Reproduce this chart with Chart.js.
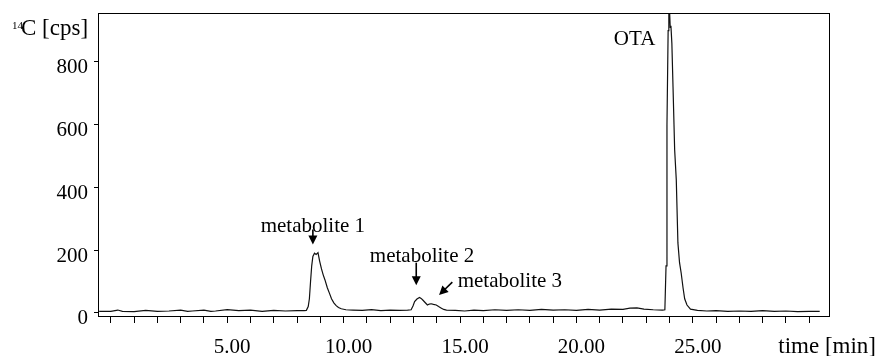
<!DOCTYPE html>
<html>
<head>
<meta charset="utf-8">
<script src="https://cdn.jsdelivr.net/npm/chart.js@4.4.0/dist/chart.umd.min.js"></script>
<style>
html,body{margin:0;padding:0;background:#fff}
#c{display:block}
</style>
</head>
<body>
<canvas id="c" width="878" height="356"></canvas>
<script>
// ===== data =====
const timeMin = [-0.5, 0, 0.3, 0.5, 1, 1.5, 2, 2.5, 3, 3.3, 3.5, 4, 4.3, 4.5, 5, 5.5, 6, 6.5, 7, 7.5, 8, 8.3,
  8.4, 8.48, 8.53, 8.58, 8.63, 8.68, 8.75, 8.82, 8.9, 8.97, 9.05, 9.12, 9.2, 9.3, 9.39, 9.48, 9.58, 9.68, 9.78, 9.9, 10.1,
  10.4, 10.8, 11.2, 11.6, 12.0, 12.4, 12.75,
  12.9, 12.98, 13.05, 13.15, 13.26, 13.33, 13.4, 13.5, 13.6, 13.68, 13.76, 13.86, 13.98, 14.08, 14.2, 14.3, 14.42,
  14.8, 15.2, 15.6, 16.0, 16.5, 17.0, 17.5, 18.0, 18.5, 19.0, 19.5, 20.0, 20.5, 21.0, 21.5, 22.0, 22.3, 22.6, 22.9, 23.3, 23.7,
  23.8, 23.85, 23.89, 23.94, 23.97, 24.0, 24.03, 24.06, 24.1, 24.15, 24.22, 24.29, 24.36, 24.43, 24.5, 24.58, 24.65, 24.75, 24.9,
  25.2, 25.6, 26.0, 26.5, 27.0, 27.5, 28.0, 28.5, 29.0, 29.5, 30.0, 30.45];
const cps = [5, 5, 9, 5, 4, 8, 5, 6, 9, 5, 6, 9, 5, 6, 10, 7, 9, 5, 8, 6, 7, 7,
  8, 20, 45, 100, 150, 180, 190, 186, 192, 165, 140, 122, 105, 80, 63, 45, 32, 23, 17, 13, 10,
  9, 8, 10, 7, 9, 8, 9,
  10, 22, 36, 44, 49, 46, 41, 33, 25, 28, 29, 27, 25, 20, 15, 11, 9,
  8, 6, 9, 7, 10, 8, 10, 8, 11, 9, 10, 8, 11, 9, 12, 11, 15, 16, 12, 10, 9,
  10, 150, 600, 900, 955, 965, 910, 915, 860, 720, 520, 424, 223, 160, 127, 80, 45, 25, 12,
  8, 6, 7, 5, 6, 5, 7, 5, 6, 4, 5, 5];

const xMinorTicks = [0,1,2,3,4,5,6,7,8,9,10,11,12,13,14,15,16,17,18,19,20,21,22,23,24,25,26,27,28,29,30];
const xMajorTicks = [5, 10, 15, 20, 25];
const xTickLabels = ['5.00', '10.00', '15.00', '20.00', '25.00'];
const yTicks = [0, 200, 400, 600, 800];

// peak labels: [text, x, y, align] and arrows [x1,y1,x2,y2] in data units
const peakLabels = [
  ['metabolite 1', 8.68, 258, 'center'],
  ['metabolite 2', 13.37, 163, 'center'],
  ['metabolite 3', 14.9, 82, 'left'],
  ['OTA', 22.5, 854, 'center']
];
const peakArrows = [
  [8.68, 266, 8.68, 218],
  [13.12, 160, 13.12, 88],
  [14.67, 98, 14.1, 57]
];

const SERIF = '"Liberation Serif", "Times New Roman", serif';

function drawArrow(ctx, x1, y1, x2, y2){
  const a = Math.atan2(y2 - y1, x2 - x1), L = 9, W = 4.5;
  ctx.beginPath(); ctx.moveTo(x1, y1);
  ctx.lineTo(x2 - Math.cos(a) * L * 0.8, y2 - Math.sin(a) * L * 0.8); ctx.stroke();
  ctx.beginPath();
  ctx.moveTo(x2, y2);
  ctx.lineTo(x2 - Math.cos(a) * L - Math.sin(a) * W, y2 - Math.sin(a) * L + Math.cos(a) * W);
  ctx.lineTo(x2 - Math.cos(a) * L + Math.sin(a) * W, y2 - Math.sin(a) * L - Math.cos(a) * W);
  ctx.closePath(); ctx.fill();
}

const decor = {
  id: 'decor',
  afterDraw(chart){
    const {ctx, chartArea: a, scales: {x, y}} = chart;
    ctx.save();
    // frame
    ctx.strokeStyle = '#000'; ctx.lineWidth = 1;
    ctx.strokeRect(a.left + 0.5, a.top + 0.5, a.right - a.left, a.bottom - a.top);
    // peak labels
    ctx.fillStyle = '#000'; ctx.font = '21px ' + SERIF; ctx.textBaseline = 'alphabetic';
    peakLabels.forEach(([t, tx, ty, al]) => {
      ctx.textAlign = al; ctx.fillText(t, x.getPixelForValue(tx), y.getPixelForValue(ty));
    });
    ctx.lineWidth = 1.6;
    peakArrows.forEach(([x1, y1, x2, y2]) => drawArrow(ctx,
      x.getPixelForValue(x1), y.getPixelForValue(y1), x.getPixelForValue(x2), y.getPixelForValue(y2)));
    // axis titles
    ctx.textAlign = 'left';
    ctx.font = '11px ' + SERIF; ctx.fillText('14', 12, 29);
    ctx.font = '23px ' + SERIF; ctx.fillText('C [cps]', 21, 35);
    ctx.textAlign = 'right'; ctx.fillText('time [min]', 876, 353);
    ctx.restore();
  }
};

new Chart(document.getElementById('c'), {
  type: 'line',
  data: {
    datasets: [{
      data: timeMin.map((t, i) => ({x: t, y: cps[i]})),
      borderColor: '#111', borderWidth: 1.2, pointRadius: 0, tension: 0, fill: false
    }]
  },
  options: {
    responsive: false, animation: false,
    layout: {padding: {top: 13, right: 49, left: 0, bottom: 0}},
    plugins: {legend: {display: false}, tooltip: {enabled: false}},
    scales: {
      x: {
        type: 'linear', min: -0.55, max: 30.85,
        afterFit: s => { s.height = 40; s.paddingLeft = 0; s.paddingRight = 0; },
        afterBuildTicks: s => { s.ticks = xMinorTicks.map(v => ({value: v})); },
        border: {color: '#000', width: 1},
        grid: {drawOnChartArea: false, drawTicks: true, tickLength: 7, color: '#000'},
        ticks: {
          autoSkip: false, maxRotation: 0, padding: 12, labelOffset: 5, color: '#000',
          font: {family: SERIF, size: 21},
          callback: v => { const k = xMajorTicks.indexOf(v); return k < 0 ? '' : xTickLabels[k]; }
        }
      },
      y: {
        min: -10, max: 956,
        afterFit: s => { s.width = 98; s.paddingTop = 0; s.paddingBottom = 0; },
        afterBuildTicks: s => { s.ticks = yTicks.map(v => ({value: v})); },
        border: {color: '#000', width: 1},
        grid: {drawOnChartArea: false, drawTicks: true, tickLength: 4, color: '#000'},
        ticks: {padding: 6, labelOffset: 6, color: '#000', font: {family: SERIF, size: 21}}
      }
    }
  },
  plugins: [decor]
});
</script>
</body>
</html>
